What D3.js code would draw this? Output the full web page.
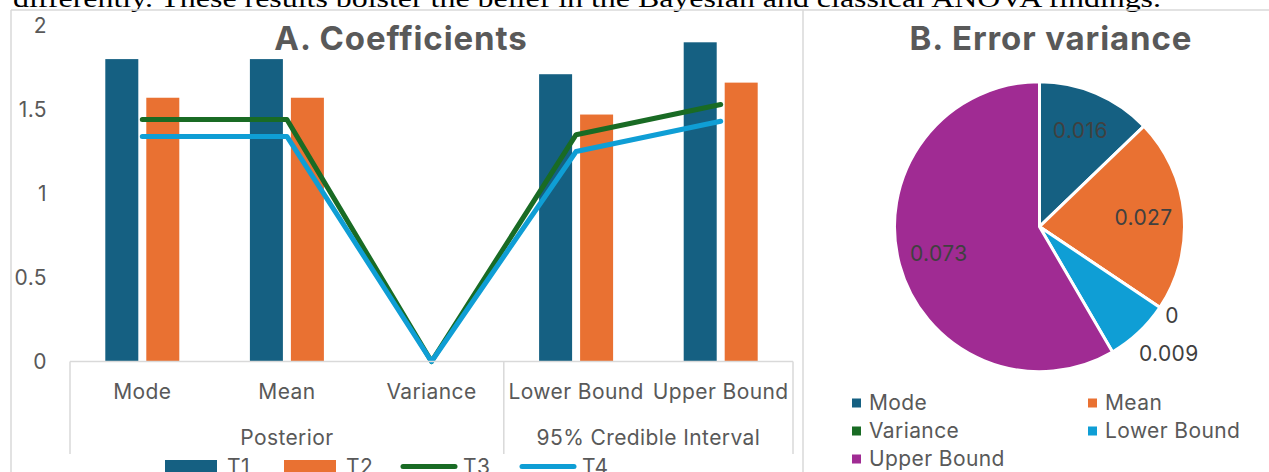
<!DOCTYPE html>
<html>
<head>
<meta charset="utf-8">
<script src="https://cdn.jsdelivr.net/npm/d3@7"></script>
<style>
  html, body { margin: 0; padding: 0; background: #fff; }
  svg { display: block; }
  text { font-family: Inter, "Open Sans", sans-serif; }
  .lbl { font-size: 21px; letter-spacing: 0.4px; }
  .ttl { font-size: 33px; font-weight: 700; letter-spacing: 0.9px; }
</style>
</head>
<body>
<svg id="fig" width="1269" height="472"></svg>
<script>
// ---- data ----
const categories = ["Mode", "Mean", "Variance", "Lower Bound", "Upper Bound"];
const groups = [
  { name: "Posterior", from: 0, to: 2 },
  { name: "95% Credible Interval", from: 3, to: 4 }
];
const barSeries = ["T1", "T2"];
const lineSeries = ["T3", "T4"];
const T1 = [1.80, 1.80, 0, 1.71, 1.90];
const T2 = [1.57, 1.57, 0, 1.47, 1.66];
const T3 = [1.44, 1.44, 0, 1.35, 1.53];
const T4 = [1.34, 1.34, 0, 1.25, 1.43];
const yTicks = [0, 0.5, 1, 1.5, 2];

const pieLabels = ["Mode", "Mean", "Variance", "Lower Bound", "Upper Bound"];
const pieValues = [0.016, 0.027, 0, 0.009, 0.073];

const captionText = "differently. These results bolster the belief in the Bayesian and classical ANOVA findings.";

// ---- styling ----
const colors = {
  T1: "#156082", T2: "#E97132", T3: "#196B24", T4: "#0F9ED5",
  Mode: "#156082", Mean: "#E97132", Variance: "#196B24",
  "Lower Bound": "#0F9ED5", "Upper Bound": "#A02B93"
};
const textGray = "#595959";
const frameGray = "#d9d9d9";

const svg = d3.select("#fig");

// caption line of the surrounding document, clipped at the top edge
svg.append("text")
  .attr("x", 13).attr("y", 6.5)
  .attr("textLength", 1148).attr("lengthAdjust", "spacingAndGlyphs")
  .style("font-family", "'Liberation Serif', 'Times New Roman', serif")
  .style("font-size", "25px").attr("fill", "#000")
  .text(captionText);

// chart frames
const frame = svg.append("g").attr("fill", "none").attr("stroke", frameGray).attr("stroke-width", 1.5);
frame.append("line").attr("x1", 11).attr("x2", 1269).attr("y1", 10).attr("y2", 10);
frame.append("line").attr("x1", 11).attr("x2", 11).attr("y1", 10).attr("y2", 472);
frame.append("line").attr("x1", 803).attr("x2", 803).attr("y1", 10).attr("y2", 472);

// ================= A. Coefficients =================
const plotL = 70, plotR = 793, yZero = 361.5, yTop = 25.5;
const x = d3.scaleBand().domain(categories).range([plotL, plotR]).padding(0);
const y = d3.scaleLinear().domain([0, 2]).range([yZero, yTop]);
const xSub = d3.scaleBand().domain(barSeries).range([-37, 37]).paddingInner(0.195);

const A = svg.append("g");

A.append("text").attr("class", "ttl")
  .attr("x", 401).attr("y", 50)
  .attr("text-anchor", "middle")
  .attr("fill", textGray)
  .text("A. Coefficients");

// y tick labels (no axis line)
const yAxis = d3.axisLeft(y).tickValues(yTicks).tickSize(0).tickPadding(0).tickFormat(d3.format("~g"));
const yg = A.append("g").attr("transform", "translate(47,0)").call(yAxis);
yg.select(".domain").remove();
yg.attr("font-family", null).attr("font-size", null);
yg.selectAll("text").attr("class", "lbl").attr("fill", textGray);

// bars
const seriesData = { T1, T2, T3, T4 };
barSeries.forEach(s => {
  A.append("g").selectAll("rect")
    .data(categories.map((c, i) => ({ c, v: seriesData[s][i] })))
    .join("rect")
    .attr("x", d => x(d.c) + x.bandwidth() / 2 + xSub(s))
    .attr("width", xSub.bandwidth())
    .attr("y", d => y(d.v))
    .attr("height", d => y(0) - y(d.v))
    .attr("fill", colors[s]);
});

// lines
const line = d3.line()
  .x(d => x(d.c) + x.bandwidth() / 2)
  .y(d => y(d.v));
lineSeries.forEach(s => {
  A.append("path")
    .datum(categories.map((c, i) => ({ c, v: seriesData[s][i] })))
    .attr("d", line)
    .attr("fill", "none")
    .attr("stroke", colors[s])
    .attr("stroke-width", 5)
    .attr("stroke-linecap", "round")
    .attr("stroke-linejoin", "round");
});

// multi-level category axis
const axG = A.append("g");
const axBottom = 454;
axG.append("line").attr("x1", plotL).attr("x2", plotR).attr("y1", yZero).attr("y2", yZero)
  .attr("stroke", frameGray).attr("stroke-width", 1.5);
const dividers = [plotL, x(categories[groups[1].from]), plotR];
axG.selectAll("line.div").data(dividers).join("line").attr("class", "div")
  .attr("x1", d => d).attr("x2", d => d).attr("y1", yZero).attr("y2", axBottom)
  .attr("stroke", frameGray).attr("stroke-width", 1.5);

const xAxis = d3.axisBottom(x).tickSize(0).tickPadding(0);
const xg = axG.append("g").attr("transform", `translate(0,${yZero})`).call(xAxis);
xg.select(".domain").remove();
xg.attr("font-family", null).attr("font-size", null);
xg.selectAll("text").attr("class", "lbl")
  .attr("y", 30).attr("dy", "0.35em")
  .attr("fill", textGray);

axG.selectAll("text.grp").data(groups).join("text").attr("class", "grp lbl")
  .attr("x", g => (x(categories[g.from]) + x(categories[g.to]) + x.bandwidth()) / 2)
  .attr("y", 438).attr("dy", "0.35em")
  .attr("text-anchor", "middle").attr("fill", textGray)
  .text(g => g.name);

// legend A (bottom row runs past the lower edge)
const legA = [
  { k: "T1", type: "rect", x: 165 },
  { k: "T2", type: "rect", x: 284 },
  { k: "T3", type: "line", x: 401 },
  { k: "T4", type: "line", x: 520 }
];
const lg = A.append("g");
legA.forEach(l => {
  if (l.type === "rect") {
    lg.append("rect").attr("x", l.x).attr("y", 460).attr("width", 52).attr("height", 14).attr("fill", colors[l.k]);
  } else {
    lg.append("line").attr("x1", l.x + 2).attr("x2", l.x + 54).attr("y1", 466.5).attr("y2", 466.5)
      .attr("stroke", colors[l.k]).attr("stroke-width", 5).attr("stroke-linecap", "round");
  }
  lg.append("text").attr("class", "lbl").attr("x", l.x + 62).attr("y", 467).attr("dy", "0.35em")
    .attr("fill", textGray).text(l.k);
});

// ================= B. Error variance =================
const B = svg.append("g");
B.append("text").attr("class", "ttl")
  .attr("x", 1051).attr("y", 50)
  .attr("text-anchor", "middle").attr("fill", textGray)
  .text("B. Error variance");

const cx = 1039.5, cy = 226.7, R = 145;
const pieData = d3.pie().sort(null).value(d => d.v)(pieLabels.map((k, i) => ({ k, v: pieValues[i] })));
const arc = d3.arc().innerRadius(0).outerRadius(R);
const pg = B.append("g").attr("transform", `translate(${cx},${cy})`);
pg.selectAll("path").data(pieData).join("path")
  .attr("d", arc)
  .attr("fill", d => colors[d.data.k])
  .attr("stroke", "#fff").attr("stroke-width", 3).attr("stroke-linejoin", "round");

// value labels: inside for large slices, outside for small ones
const total = d3.sum(pieValues);
let outsideCount = 0;
pg.selectAll("text").data(pieData).join("text").attr("class", "lbl")
  .each(function (d) {
    const share = d.data.v / total;
    let ang = (d.startAngle + d.endAngle) / 2;
    let r;
    if (share >= 0.1) r = R * 0.72;
    else { r = R * (1.1 + 0.15 * outsideCount); ang -= 0.04 * outsideCount; outsideCount++; }
    d3.select(this)
      .attr("x", Math.sin(ang) * r)
      .attr("y", -Math.cos(ang) * r)
      .attr("dy", "0.35em");
  })
  .attr("text-anchor", "middle")
  .attr("fill", "#404040")
  .text(d => d3.format("~g")(d.data.v));

// legend B
const legBx = [852, 1088];
const legBy = [403, 431, 459];
const lb = B.append("g");
pieLabels.forEach((k, i) => {
  const lx = legBx[i % 2], ly = legBy[Math.floor(i / 2)];
  lb.append("rect").attr("x", lx).attr("y", ly - 4.5).attr("width", 9).attr("height", 9).attr("fill", colors[k]);
  lb.append("text").attr("class", "lbl").attr("x", lx + 17).attr("y", ly).attr("dy", "0.35em")
    .attr("fill", textGray).text(k);
});
</script>
</body>
</html>
